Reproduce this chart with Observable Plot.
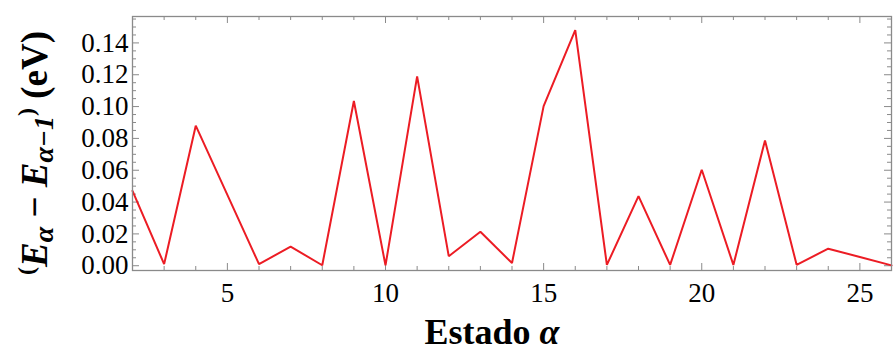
<!DOCTYPE html>
<html>
<head>
<meta charset="utf-8">
<script src="https://cdn.jsdelivr.net/npm/d3@7"></script>
<script src="https://cdn.jsdelivr.net/npm/@observablehq/plot@0.6"></script>
<style>
  html, body { margin: 0; padding: 0; background: #fff; }
  #wrap { position: relative; width: 894px; height: 352px; }
  .lbl { position: absolute; font-family: "Liberation Serif", "Times New Roman", serif; font-weight: bold; color: #000; white-space: nowrap; text-align: center; }
  .it { font-style: italic; }
  .sub { position: relative; top: 6px; font-size: 28px; font-style: italic; }
  .par { position: relative; top: -13px; font-size: 24px; }
</style>
</head>
<body>
<div id="wrap">
  <div id="chart"></div>
  <div id="xlabel" class="lbl" style="left:292px; top:314px; width:400px; font-size:36px; line-height:36px;"></div>
  <div id="ylabel" class="lbl" style="left:-125px; top:133px; width:320px; height:40px; font-size:37px; line-height:40px; transform:rotate(-90deg); transform-origin:50% 50%;"></div>
</div>
<script>
// Data
const states = [2, 3, 4, 5, 6, 7, 8, 9, 10, 11, 12, 13, 14, 15, 16, 17, 18, 19, 20, 21, 22, 23, 24, 25, 26];
const deltaE = [0.047, 0.001, 0.088, 0.0445, 0.001, 0.012, 0.0003, 0.1035, 0.0002, 0.119, 0.006, 0.0213, 0.0017, 0.1003, 0.148, 0.0005, 0.0437, 0.0005, 0.0603, 0.0005, 0.0787, 0.0006, 0.0107, 0.0055, 0.0002];
const xMajorTicks = [5, 10, 15, 20, 25];
const xMinorTicks = [2, 3, 4, 6, 7, 8, 9, 11, 12, 13, 14, 16, 17, 18, 19, 21, 22, 23, 24, 26];
const yMajorTicks = [0, 0.02, 0.04, 0.06, 0.08, 0.10, 0.12, 0.14];
const yMinorTicks = [0.005, 0.01, 0.015, 0.025, 0.03, 0.035, 0.045, 0.05, 0.055, 0.065, 0.07, 0.075, 0.085, 0.09, 0.095, 0.105, 0.11, 0.115, 0.125, 0.13, 0.135, 0.145, 0.15, 0.155];
const xLabelMain = "Estado ";
const xLabelSym = "α";

const data = states.map((s, i) => ({state: s, dE: deltaE[i]}));

const W = 894, H = 352;
const mL = 132, mR = 3, mT = 16, mB = 82;
const innerW = W - mL - mR, innerH = H - mT - mB;
const frameColor = "#8a8a8a";
const red = "#ec1c24";
const serif = "Liberation Serif";

const plot = Plot.plot({
  width: W,
  height: H,
  marginLeft: mL,
  marginRight: mR,
  marginTop: mT,
  marginBottom: mB,
  style: {fontFamily: serif, fontSize: "27px", background: "#fff", color: "#000"},
  x: {domain: [2, 26]},
  y: {domain: [-0.003, 0.1566]},
  marks: [
    Plot.axisX({ticks: xMajorTicks, tickSize: 0, tickPadding: 12, label: null, tickFormat: d3.format("d"), fill: "#000", fontFamily: serif, fontSize: 27}),
    Plot.axisY({ticks: yMajorTicks, tickSize: 0, tickPadding: 4, label: null, tickFormat: d3.format(".2f"), fill: "#000", fontFamily: serif, fontSize: 27}),
    Plot.tickX(xMinorTicks, {x: d => d, stroke: frameColor, insetTop: innerH - 4}),
    Plot.tickX(xMinorTicks, {x: d => d, stroke: frameColor, insetBottom: innerH - 4}),
    Plot.tickX(xMajorTicks, {x: d => d, stroke: frameColor, insetTop: innerH - 7}),
    Plot.tickX(xMajorTicks, {x: d => d, stroke: frameColor, insetBottom: innerH - 7}),
    Plot.tickY(yMinorTicks, {y: d => d, stroke: frameColor, insetRight: innerW - 4}),
    Plot.tickY(yMinorTicks, {y: d => d, stroke: frameColor, insetLeft: innerW - 4}),
    Plot.tickY(yMajorTicks, {y: d => d, stroke: frameColor, insetRight: innerW - 7}),
    Plot.tickY(yMajorTicks, {y: d => d, stroke: frameColor, insetLeft: innerW - 7}),
    Plot.line(data, {x: "state", y: "dE", stroke: red, strokeWidth: 2, strokeLinejoin: "miter"}),
    Plot.frame({stroke: frameColor, strokeWidth: 1.3})
  ]
});

document.getElementById("chart").appendChild(plot);

// X label (HTML, outside the SVG)
const xl = d3.select("#xlabel");
xl.append("span").text(xLabelMain);
xl.append("span").attr("class", "it").text(xLabelSym);

// Y label (HTML, rotated) with subscripts
const yl = d3.select("#ylabel");
yl.append("span").attr("class", "par").text("(");
yl.append("span").attr("class", "it").text("E");
yl.append("span").attr("class", "sub").text("α");
yl.append("span").text(" − ");
yl.append("span").attr("class", "it").text("E");
yl.append("span").attr("class", "sub").text("α−1");
yl.append("span").attr("class", "par").text(")");
yl.append("span").text(" (eV)");
</script>
</body>
</html>
